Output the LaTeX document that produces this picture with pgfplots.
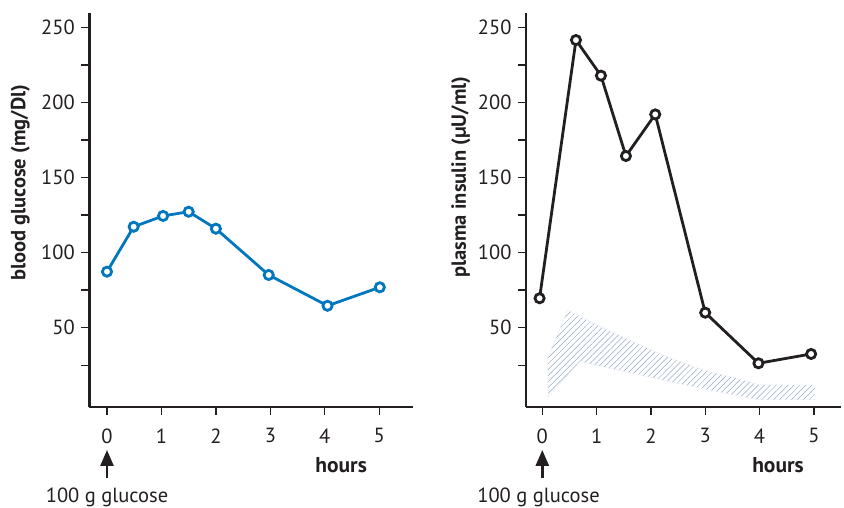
\documentclass[border=0pt]{standalone}
\usepackage{fontspec}
\setmainfont{PT Sans}
\usepackage{pgfplots}
\pgfplotsset{compat=1.18}
\usetikzlibrary{patterns.meta,arrows.meta}
\definecolor{gblue}{RGB}{0,119,190}
\definecolor{ink}{RGB}{35,31,32}
\definecolor{hatch}{RGB}{150,168,200}
\pgfplotsset{
  myaxis/.style={
    scale only axis,
    axis lines=left,
    axis line style={-, line width=2.6pt, color=ink},
    ymin=-2.8, ymax=259.3,
    height=393.7pt,
    xtick={0,1,2,3,4,5},
    ytick={50,100,150,200,250},
    minor ytick={25,75,125,175,225},
    tick align=outside,
    major tick length=8pt,
    minor tick length=8pt,
    tick style={line width=1.4pt, color=ink},
    /pgf/number format/assume math mode=true,
    tick label style={font=\fontsize{20.5}{24}\selectfont, text=ink},
    xticklabel style={yshift=-10pt},
    yticklabel style={xshift=-3pt},
    clip=false,
  }
}
\begin{document}
\begin{tikzpicture}[x=1pt,y=1pt]
\useasboundingbox (0,0) rectangle (844,508);
% left panel: blood glucose
\begin{axis}[myaxis,
  at={(89.3pt,101pt)}, anchor=south west,
  width=323.7pt,
  xmin=-0.325, xmax=5.62]
\addplot[color=gblue, line width=2.8pt, mark=*, mark size=4.6pt,
  mark options={fill=white, draw=gblue, line width=2.8pt}]
  coordinates {(0,87.3) (0.49,117.2) (1.03,124.4) (1.5,127.2) (2.0,115.9) (2.97,85.1) (4.05,64.6) (5.01,76.9)};
\node[rotate=90, font=\fontsize{20.5}{24}\selectfont\bfseries, text=ink] at (axis cs:-1.59,146.5) {blood glucose (mg/Dl)};
\node[font=\fontsize{21.5}{25}\selectfont\bfseries, text=ink] at (axis cs:4.3,-41.4) {hours};
\draw[ink, line width=2.6pt, -{Triangle[length=16pt,width=13pt]}] (axis cs:0,-50.1) -- (axis cs:0,-31.4);
\node[font=\fontsize{20.5}{24}\selectfont, text=ink] at (axis cs:0,-62.7) {100 g glucose};
\end{axis}
% right panel: plasma insulin
\begin{axis}[myaxis,
  at={(526pt,101pt)}, anchor=south west,
  width=315pt,
  xmin=-0.30, xmax=5.5]
\addplot[draw=hatch!25, line width=0.3pt,
  pattern={Lines[angle=45,distance=4.2pt,line width=0.5pt]}, pattern color=hatch]
  coordinates {(0.1,29.8) (0.47,61.8) (1.12,49.8) (2.17,32.5) (2.96,21.8) (3.58,16.3) (4.0,11.9) (5.02,11.9)
               (5.02,2) (4.0,2) (3.0,9) (2.17,15.6) (0.69,27.4) (0.11,4)} -- cycle;
\addplot[color=ink, line width=2.8pt, mark=*, mark size=4.6pt,
  mark options={fill=white, draw=ink, line width=2.8pt}]
  coordinates {(-0.05,69.6) (0.62,241.5) (1.08,217.8) (1.54,164.3) (2.08,192) (3.0,60) (3.98,26.3) (4.95,32.5)};
\node[rotate=90, font=\fontsize{20.5}{24}\selectfont\bfseries, text=ink] at (axis cs:-1.50,150.3) {plasma insulin (µU/ml)};
\node[font=\fontsize{21.5}{25}\selectfont\bfseries, text=ink] at (axis cs:4.34,-41.4) {hours};
\draw[ink, line width=2.6pt, -{Triangle[length=16pt,width=13pt]}] (axis cs:0,-50.1) -- (axis cs:0,-31.4);
\node[font=\fontsize{20.5}{24}\selectfont, text=ink] at (axis cs:-0.07,-62.7) {100 g glucose};
\end{axis}
\end{tikzpicture}
\end{document}
